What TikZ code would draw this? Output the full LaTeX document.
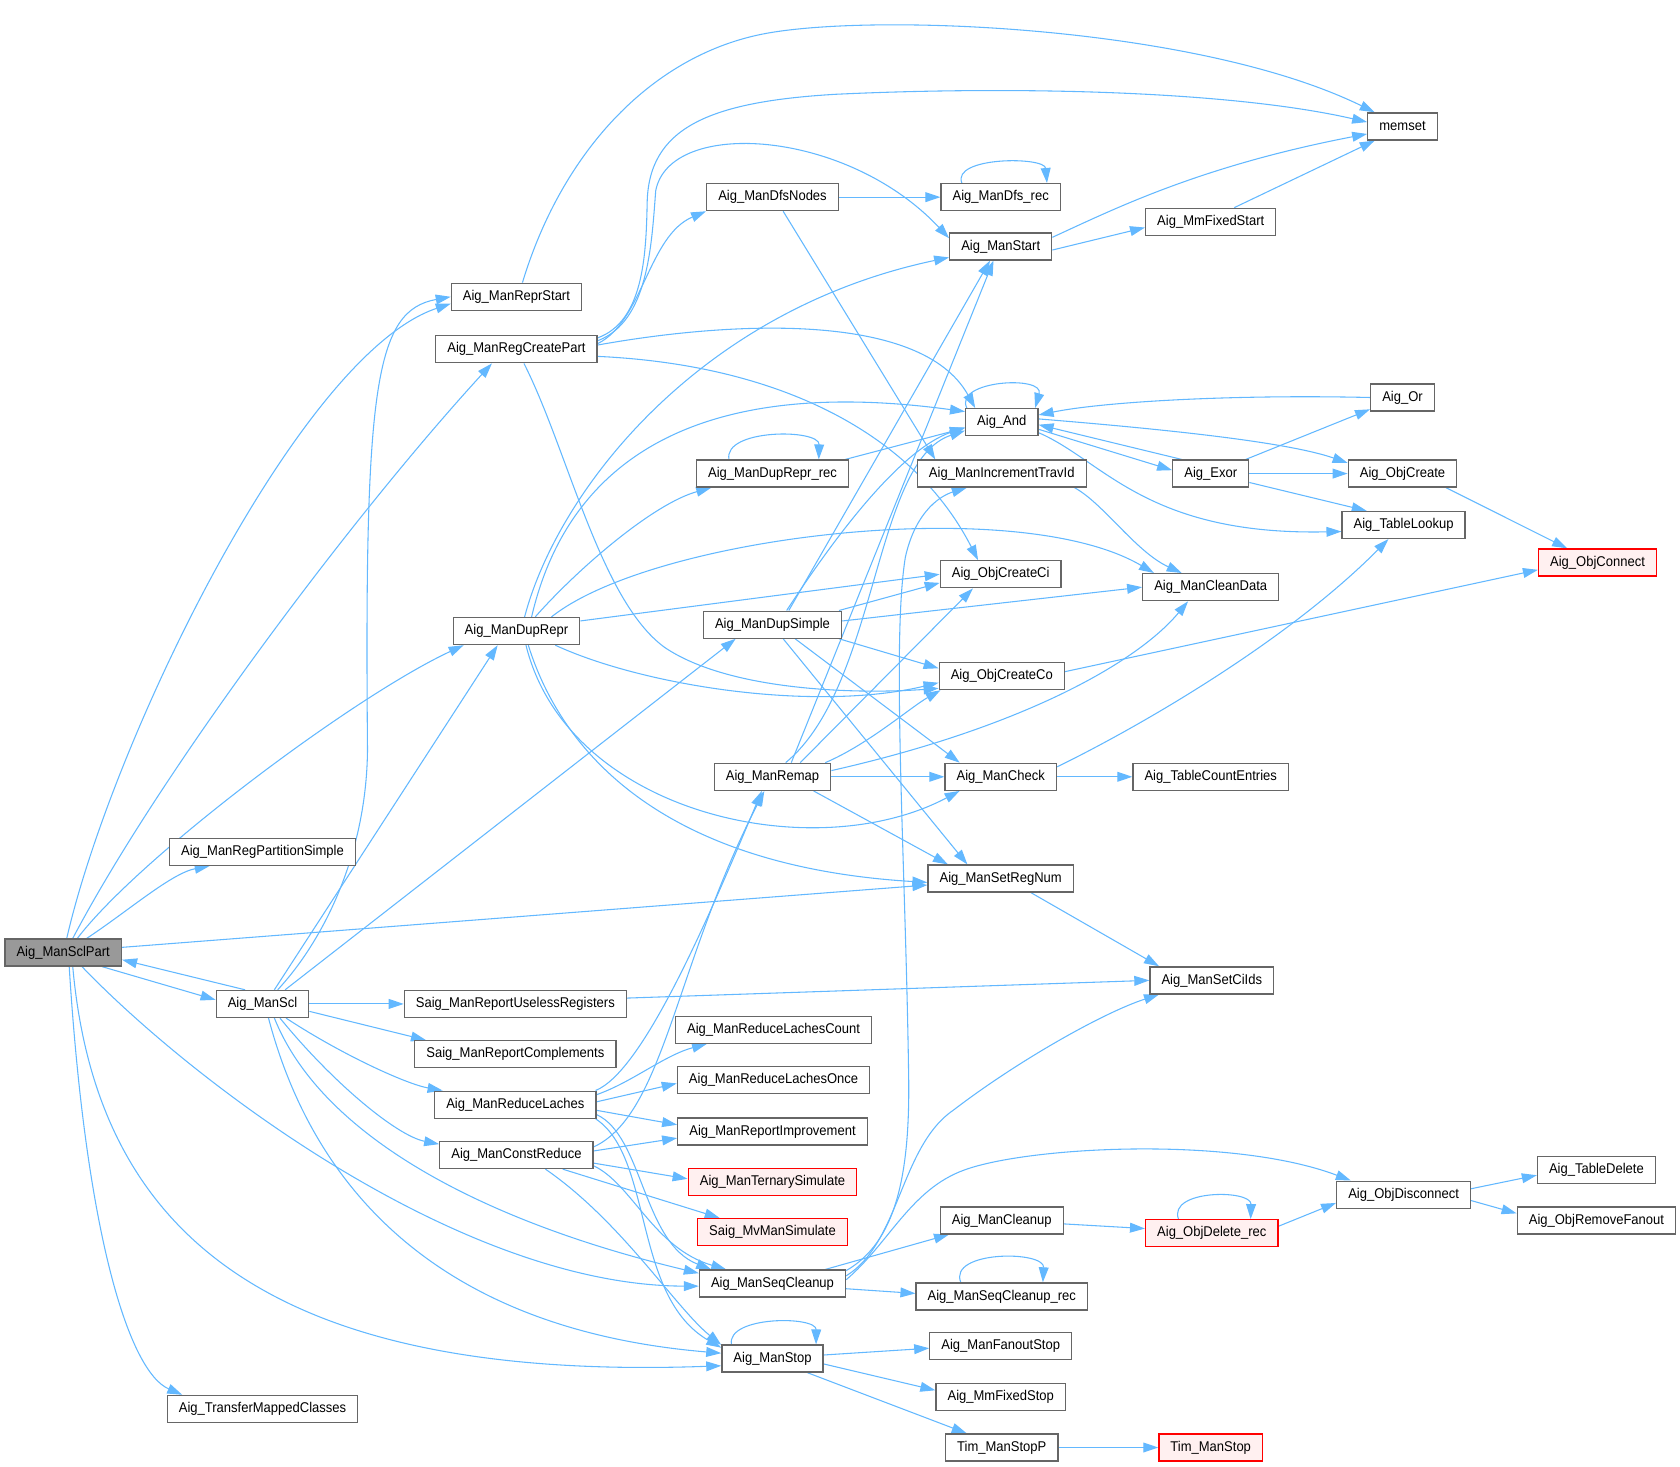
\documentclass[tikz,border=0pt]{standalone}
\usepackage{fontspec}
\setmainfont{Liberation Sans}[FakeStretch=0.92]
\usetikzlibrary{arrows.meta}
\definecolor{callblue}{HTML}{63B8FF}
\definecolor{boxgray}{HTML}{666666}
\definecolor{mainfill}{HTML}{999999}
\definecolor{redfill}{HTML}{FFF0F0}
\pgfdeclarelayer{bg}
\pgfsetlayers{bg,main}

\begin{document}
\begin{tikzpicture}[x=0.5pt,y=-0.5pt,
  fn/.style={draw=boxgray,fill=white,line width=0.6pt,minimum height=12.6pt,
    inner xsep=5.4pt,inner ysep=0pt,font=\fontsize{6.6}{7.5}\selectfont},
  fnmain/.style={fn,fill=mainfill},
  fnred/.style={fn,draw=red,fill=redfill},
  calls/.style={draw=callblue,line width=0.5pt,-{Triangle[length=7pt,width=4.6pt]}}]
\useasboundingbox (0,0) rectangle (1568,1369);

% functions
\node[fnmain] (sclpart) at (59,889) {Aig\_ManSclPart};
\node[fn] (reprstart) at (482,277) {Aig\_ManReprStart};
\node[fn] (regcreate) at (482,326) {Aig\_ManRegCreatePart};
\node[fn] (regpart) at (245,795) {Aig\_ManRegPartitionSimple};
\node[fn] (duprepr) at (482,589) {Aig\_ManDupRepr};
\node[fn] (scl) at (245,937) {Aig\_ManScl};
\node[fn] (transfer) at (245,1315) {Aig\_TransferMappedClasses};
\node[fn] (memset) at (1309,118) {memset};
\node[fn] (dfsnodes) at (721,184) {Aig\_ManDfsNodes};
\node[fn] (dfsrec) at (934,184) {Aig\_ManDfs\_rec};
\node[fn] (manstart) at (934,230) {Aig\_ManStart};
\node[fn] (mmfixedstart) at (1130,207) {Aig\_MmFixedStart};
\node[fn] (and) at (935,394) {Aig\_And};
\node[fn] (or) at (1309,371) {Aig\_Or};
\node[fn] (dupreprrec) at (721,442) {Aig\_ManDupRepr\_rec};
\node[fn] (travid) at (935,442) {Aig\_ManIncrementTravId};
\node[fn] (exor) at (1130,442) {Aig\_Exor};
\node[fn] (objcreate) at (1309,442) {Aig\_ObjCreate};
\node[fn] (tablelookup) at (1310,490) {Aig\_TableLookup};
\node[fnred] (objconnect) at (1491,525) {Aig\_ObjConnect};
\node[fn] (createci) at (934,536) {Aig\_ObjCreateCi};
\node[fn] (cleandata) at (1130,548) {Aig\_ManCleanData};
\node[fn] (dupsimple) at (721,583) {Aig\_ManDupSimple};
\node[fn] (createco) at (935,631) {Aig\_ObjCreateCo};
\node[fn] (remap) at (721,725) {Aig\_ManRemap};
\node[fn] (mancheck) at (934,725) {Aig\_ManCheck};
\node[fn] (tablecount) at (1130,725) {Aig\_TableCountEntries};
\node[fn] (setregnum) at (934,820) {Aig\_ManSetRegNum};
\node[fn] (setciids) at (1131,915) {Aig\_ManSetCiIds};
\node[fn] (useless) at (481,937) {Saig\_ManReportUselessRegisters};
\node[fn] (complements) at (481,984) {Saig\_ManReportComplements};
\node[fn] (lachescount) at (722,961) {Aig\_ManReduceLachesCount};
\node[fn] (reducelaches) at (481,1031) {Aig\_ManReduceLaches};
\node[fn] (lachesonce) at (722,1008) {Aig\_ManReduceLachesOnce};
\node[fn] (reportimpr) at (721,1056) {Aig\_ManReportImprovement};
\node[fn] (constreduce) at (482,1078) {Aig\_ManConstReduce};
\node[fnred] (ternary) at (721,1103) {Aig\_ManTernarySimulate};
\node[fnred] (mvsim) at (721,1150) {Saig\_MvManSimulate};
\node[fn] (cleanup) at (935,1139) {Aig\_ManCleanup};
\node[fnred] (objdelrec) at (1131,1151) {Aig\_ObjDelete\_rec};
\node[fn] (objdisc) at (1310,1115) {Aig\_ObjDisconnect};
\node[fn] (tabledelete) at (1490,1092) {Aig\_TableDelete};
\node[fn] (removefanout) at (1490,1139) {Aig\_ObjRemoveFanout};
\node[fn] (seqcleanup) at (721,1198) {Aig\_ManSeqCleanup};
\node[fn] (seqcleanrec) at (935,1210) {Aig\_ManSeqCleanup\_rec};
\node[fn] (manstop) at (721,1268) {Aig\_ManStop};
\node[fn] (fanoutstop) at (934,1256) {Aig\_ManFanoutStop};
\node[fn] (mmfixedstop) at (934,1304) {Aig\_MmFixedStop};
\node[fn] (timstopp) at (935,1351) {Tim\_ManStopP};
\node[fnred] (timstop) at (1130,1351) {Tim\_ManStop};

\begin{pgfonlayer}{bg}
% calls of Aig_ManSclPart
\draw[calls] (sclpart.76) .. controls (105,690) and (280,330) .. (reprstart.-174);
\draw[calls] (sclpart.56) .. controls (150,720) and (330,480) .. (regcreate.-150);
\draw[calls] (sclpart.45) .. controls (130,800) and (330,650) .. (duprepr.-165);
\draw[calls] (sclpart.31) .. controls (120,850) and (160,815) .. (regpart.-165);
\draw[calls] (sclpart.5) -- (setregnum.-175);
\draw[calls] (sclpart.-20) -- (scl.175);
\draw[calls] (sclpart.-37) .. controls (180,1010) and (430,1200) .. (seqcleanup.-178);
\draw[calls] (sclpart.-56) .. controls (90,1150) and (250,1290) .. (manstop.-172);
\draw[calls] (sclpart.-67) .. controls (80,1150) and (120,1280) .. (transfer.170);

% calls of Aig_ManScl
\draw[calls] (scl.141) -- (sclpart.-7);
\draw[calls] (scl.43) .. controls (300,880) and (342,800) .. (343,700)
  .. controls (340,360) and (350,290) .. (reprstart.180);
\draw[calls] (scl.50) -- (duprepr.-143);
\draw[calls] (scl.32) -- (dupsimple.-159);
\draw[calls] (scl) -- (useless);
\draw[calls] (scl.-9) -- (complements.171);
\draw[calls] (scl.-31) .. controls (320,985) and (380,1012) .. (reducelaches.169);
\draw[calls] (scl.-39) .. controls (310,1010) and (370,1060) .. (constreduce.172);
\draw[calls] (scl.-50) .. controls (300,1060) and (450,1140) .. (seqcleanup.172);
\draw[calls] (scl.-67) .. controls (290,1100) and (400,1240) .. (manstop.174);

% upper part
\draw[calls] (reprstart.67) .. controls (525,140) and (610,50) .. (716,31)
  .. controls (822,12) and (1120,25) .. (memset.153);
\draw[calls] (regcreate.8) .. controls (600,300) and (603,240) .. (604,190)
  .. controls (605,120) and (660,95) .. (780,88)
  .. controls (950,80) and (1150,85) .. (memset.173);
\draw[calls] (regcreate.6) .. controls (605,300) and (608,230) .. (612,178)
  .. controls (625,110) and (790,120) .. (manstart.171);
\draw[calls] (regcreate.4) .. controls (600,300) and (605,220) .. (dfsnodes.-168);
\draw[calls] (regcreate.3) .. controls (680,300) and (860,290) .. (and.152);
\draw[calls] (regcreate.-5) .. controls (720,340) and (850,400) .. (createci.148);
\draw[calls] (regcreate.-62) .. controls (530,420) and (560,560) .. (620,604)
  .. controls (680,645) and (800,648) .. (createco.-169);
\draw[calls] (dfsnodes) -- (dfsrec);
\draw[calls] (dfsnodes.-53) -- (travid.168);
\draw[calls] (dfsrec.160) .. controls (888,146) and (975,146) .. (dfsrec.17);
\draw[calls] (manstart.10) .. controls (1040,195) and (1120,155) .. (memset.-168);
\draw[calls] (manstart.-4) -- (mmfixedstart.-175);
\draw[calls] (mmfixedstart.31) -- (memset.-153);

% Aig_And and its neighbours
\draw[calls] (and.158) .. controls (890,355) and (975,350) .. (and.23);
\draw[calls] (and.-11) -- (exor.175);
\draw[calls] (and.5) .. controls (1080,400) and (1200,412) .. (objcreate.169);
\draw[calls] (and.-16) .. controls (1030,430) and (1070,500) .. (tablelookup.-174);
\draw[calls] (or.180) .. controls (1150,368) and (1030,375) .. (and.11);
\draw[calls] (exor.154) -- (and.-4);
\draw[calls] (exor.22) -- (or.-160);
\draw[calls] (exor) -- (objcreate);
\draw[calls] (exor.-13) -- (tablelookup.159);
\draw[calls] (objcreate.-18) -- (objconnect.155);
\draw[calls] (createco.4) -- (objconnect.-173);
\draw[calls] (dupreprrec.162) .. controls (675,400) and (765,400) .. (dupreprrec.17);
\draw[calls] (dupreprrec.11) -- (and.-171);
\draw[calls] (travid.-11) .. controls (1030,470) and (1060,515) .. (cleandata.154);

% calls of Aig_ManDupRepr
\draw[calls] (duprepr.60) .. controls (520,460) and (650,290) .. (manstart.-168);
\draw[calls] (duprepr.43) .. controls (530,430) and (650,350) .. (and.164);
\draw[calls] (duprepr.37) .. controls (540,530) and (610,470) .. (dupreprrec.-167);
\draw[calls] (duprepr.22) .. controls (610,500) and (950,460) .. (cleandata.166);
\draw[calls] (duprepr.9) -- (createci.180);
\draw[calls] (duprepr.-20) .. controls (600,640) and (760,665) .. (createco.-174);
\draw[calls] (duprepr.-56) .. controls (530,760) and (760,810) .. (mancheck.-161);
\draw[calls] (duprepr.-50) .. controls (530,720) and (640,810) .. (setregnum.-177);

% calls of Aig_ManDupSimple
\draw[calls] (dupsimple.41) -- (manstart.-127);
\draw[calls] (dupsimple.45) .. controls (780,500) and (840,420) .. (and.-172);
\draw[calls] (dupsimple.12) -- (createci.-172);
\draw[calls] (dupsimple.3) -- (cleandata.180);
\draw[calls] (dupsimple.-12) -- (createco.173);
\draw[calls] (dupsimple.-32) -- (mancheck.161);
\draw[calls] (dupsimple.-53) -- (setregnum.157);

% calls of Aig_ManRemap
\draw[calls] (remap.37) -- (manstart.-117);
\draw[calls] (remap.47) .. controls (820,640) and (815,430) .. (and.-167);
\draw[calls] (remap.27) -- (createci.-153);
\draw[calls] (remap.15) .. controls (810,695) and (850,660) .. (createco.-167);
\draw[calls] (remap.6) .. controls (950,680) and (1060,620) .. (cleandata.-148);
\draw[calls] (remap) -- (mancheck);
\draw[calls] (remap.-19) -- (setregnum.165);
\draw[calls] (mancheck) -- (tablecount);
\draw[calls] (mancheck.10) .. controls (1060,680) and (1200,600) .. (tablelookup.-137);
\draw[calls] (setregnum.-25) -- (setciids.165);
\draw[calls] (useless.3) -- (setciids.180);

% latch reduction
\draw[calls] (reducelaches.10) .. controls (600,1000) and (660,860) .. (remap.-127);
\draw[calls] (constreduce.6) .. controls (620,1040) and (630,900) .. (remap.-120);
\draw[calls] (reducelaches.7) .. controls (590,1010) and (620,985) .. (lachescount.-168);
\draw[calls] (reducelaches.2) -- (lachesonce.-178);
\draw[calls] (reducelaches.-4) -- (reportimpr.176);
\draw[calls] (reducelaches.-7) .. controls (600,1060) and (600,1160) .. (seqcleanup.167);
\draw[calls] (reducelaches.-10) .. controls (610,1080) and (590,1210) .. (manstop.168);
\draw[calls] (constreduce.3) -- (reportimpr.-176);
\draw[calls] (constreduce.-6) -- (ternary.178);
\draw[calls] (constreduce.-17) -- (mvsim.165);
\draw[calls] (constreduce.-8) .. controls (590,1105) and (610,1165) .. (seqcleanup.163);
\draw[calls] (constreduce.-26) .. controls (580,1140) and (630,1220) .. (manstop.165);

% calls of Aig_ManSeqCleanup
\draw[calls] (seqcleanup.6) .. controls (840,1160) and (840,1070) .. (890,1036)
  .. controls (950,990) and (1030,945) .. (setciids.-165);
\draw[calls] (seqcleanup.10) .. controls (835,1160) and (850,1100) .. (848,1000)
  .. controls (845,800) and (832,600) .. (845,520)
  .. controls (855,475) and (880,462) .. (travid.-158);
\draw[calls] (seqcleanup.3) .. controls (830,1160) and (850,1110) .. (900,1092)
  .. controls (960,1070) and (1150,1060) .. (objdisc.165);
\draw[calls] (seqcleanup.15) -- (cleanup.-165);
\draw[calls] (seqcleanup.-4) -- (seqcleanrec.178);
\draw[calls] (seqcleanrec.161) .. controls (885,1167) and (975,1167) .. (seqcleanrec.19);
\draw[calls] (cleanup) -- (objdelrec.176);
\draw[calls] (objdelrec.157) .. controls (1090,1110) and (1168,1110) .. (objdelrec.20);
\draw[calls] (objdelrec.6) -- (objdisc.-173);
\draw[calls] (objdisc.5) -- (tabledelete.-175);
\draw[calls] (objdisc.-5) -- (removefanout.175);

% calls of Aig_ManStop
\draw[calls] (manstop.161) .. controls (678,1228) and (762,1228) .. (manstop.18);
\draw[calls] (manstop.4) -- (fanoutstop.-178);
\draw[calls] (manstop.-6) -- (mmfixedstop.174);
\draw[calls] (manstop.-22) -- (timstopp.158);
\draw[calls] (timstopp) -- (timstop);
\end{pgfonlayer}
\end{tikzpicture}
\end{document}
